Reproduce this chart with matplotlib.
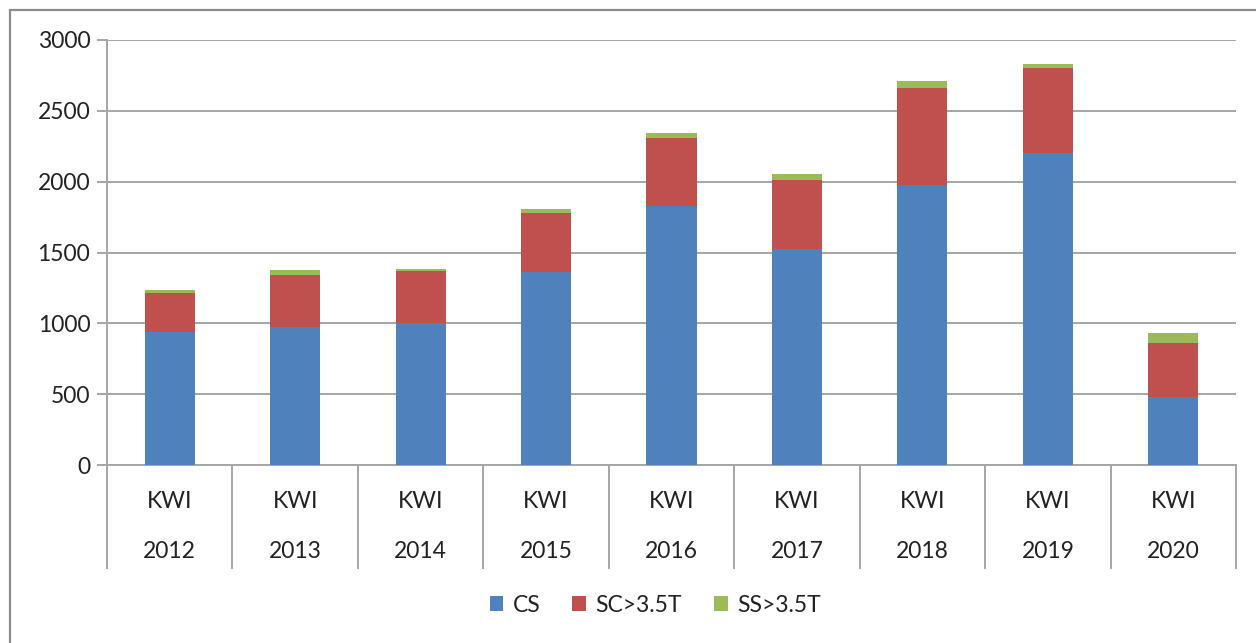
import matplotlib.pyplot as plt
from matplotlib.patches import Rectangle
import numpy as np

plt.rcParams['font.family'] = ['Lato', 'DejaVu Sans']

# данные
years = ['2012', '2013', '2014', '2015', '2016', '2017', '2018', '2019', '2020']
country = 'KWI'
cs = [940, 975, 1005, 1365, 1825, 1525, 1980, 2200, 478]
sc = [272, 363, 367, 415, 480, 490, 680, 605, 385]
ss = [25, 35, 12, 25, 35, 38, 53, 25, 66]

W, H = 1256, 643
fig = plt.figure(figsize=(W / 100, H / 100), dpi=100)

# рамка вокруг диаграммы
fig.patches.append(Rectangle((10 / W, -0.1), 1.2, 1 - 10 / H + 0.1,
                             transform=fig.transFigure, fill=False,
                             edgecolor='#8c8c8c', linewidth=1.6))

x0, x1, y0, y1 = 107, 1236, 40, 465
ax = fig.add_axes([x0 / W, 1 - y1 / H, (x1 - x0) / W, (y1 - y0) / H])

x = np.arange(len(years))
cs_a, sc_a, ss_a = np.array(cs), np.array(sc), np.array(ss)
w = 0.4
ax.bar(x, cs_a, w, color='#4F81BD', label='CS', zorder=3)
ax.bar(x, sc_a, w, bottom=cs_a, color='#C0504D', label='SC>3.5T', zorder=3)
ax.bar(x, ss_a, w, bottom=cs_a + sc_a, color='#9BBB59', label='SS>3.5T', zorder=3)

ax.set_xlim(-0.5, len(years) - 0.5)
ax.set_ylim(0, 3000)
ax.set_yticks(range(0, 3001, 500))
ax.yaxis.grid(True, color='#a6a6a6', linewidth=1.4, zorder=0)
ax.set_xticks([])
ax.tick_params(axis='y', length=7, color='#a6a6a6', width=1.4,
               labelsize=16.5, labelcolor='#222222', pad=5)

for s in ['top', 'right']:
    ax.spines[s].set_visible(False)
for s in ['left', 'bottom']:
    ax.spines[s].set_color('#a6a6a6')
    ax.spines[s].set_linewidth(1.4)

# подписи категорий и разделители
tr = ax.get_xaxis_transform()
h = y1 - y0
for i, yr in enumerate(years):
    ax.text(i, -(502 - y1) / h, country, transform=tr, ha='center', va='center',
            fontsize=16.5, color='#222222')
    ax.text(i, -(552 - y1) / h, yr, transform=tr, ha='center', va='center',
            fontsize=16.5, color='#222222')
for b in np.arange(len(years) + 1) - 0.5:
    ax.plot([b, b], [0, -(568 - y1) / h], transform=tr, color='#a6a6a6',
            linewidth=1.4, clip_on=False)

fig.legend(loc='center', bbox_to_anchor=(655 / W, 1 - 605 / H), ncol=3,
           frameon=False, fontsize=16.5, handlelength=0.6, handleheight=0.6,
           handletextpad=0.4, columnspacing=1.4, labelcolor='#222222')

fig.savefig('out.png', dpi=100)
